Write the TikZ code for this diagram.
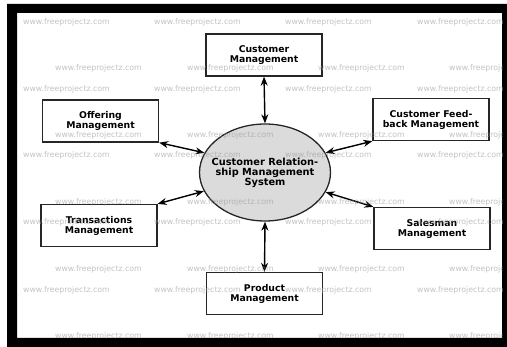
\documentclass[tikz,border=0pt]{standalone}
\usepackage{fontspec}
\setmainfont{DejaVu Sans}
\usetikzlibrary{arrows.meta,shapes.geometric}

\tikzset{
    module/.style={draw=black!85, line width=1.3pt, fill=white,
        minimum width=116pt, minimum height=42pt, align=center,
        font=\fontsize{9.3}{10}\selectfont\bfseries},
    system/.style={ellipse, draw=black!85, line width=1.3pt, fill=black!14,
        minimum width=131pt, minimum height=97pt},
    link/.style={{Stealth[length=9pt,width=7pt]}-{Stealth[length=9pt,width=7pt]},
        line width=1.4pt},
    watermark/.style={anchor=west, inner sep=0pt, text=black!40, opacity=0.6,
        font=\fontsize{7.8}{8}\selectfont}
}

\begin{document}
\begin{tikzpicture}[x=1pt,y=-1pt]
    \useasboundingbox (0,0) rectangle (507,347);

    % Frame
    \fill[black,even odd rule] (7,4) rectangle (507,347) (17,13) rectangle (502,338);

    % Central system
    \node[system] (crm) at (265,172.5) {};
    \node[align=center, font=\fontsize{9.8}{10}\selectfont\bfseries] (crmlabel) at (crm) {Customer Relation-\\ship Management\\System};

    % Modules
    \node[module] (cust) at (264,55) {Customer\\Management};
    \node[module] (offer) at (100.5,121) {Offering\\Management};
    \node[module] (feed) at (431,119.5) {Customer Feed-\\back Management};
    \node[module] (trans) at (99,225.5) {Transactions\\Management};
    \node[module] (sales) at (432,228.5) {Salesman\\Management};
    \node[module] (prod) at (264.5,293.5) {Product\\Management};

    % Data flows
    \draw[link] (cust.south) -- (crm.north);
    \draw[link] (offer.south east) -- (crm.162);
    \draw[link] (feed.south west) -- (crm.18);
    \draw[link] (trans.north east) -- (crm.197);
    \draw[link] (sales.north west) -- (crm.-18);
    \draw[link] (prod.north) -- (crm.south);

    % Watermark
    \begin{scope}
        \clip (17,13) rectangle (502,338);
        \foreach \y [count=\r] in {22,89,155.5,222.5,290} {
            \foreach \x [count=\c] in {23,154,285,417} {
                \node[watermark] (wa\r\c) at (\x,\y) {www.freeprojectz.com};
            }
        }
        \foreach \y [count=\r] in {68,135,202.5,269.5,336} {
            \foreach \x [count=\c] in {55,187,318,449} {
                \node[watermark] (wb\r\c) at (\x,\y) {www.freeprojectz.com};
            }
        }
    \end{scope}

\end{tikzpicture}
\end{document}
